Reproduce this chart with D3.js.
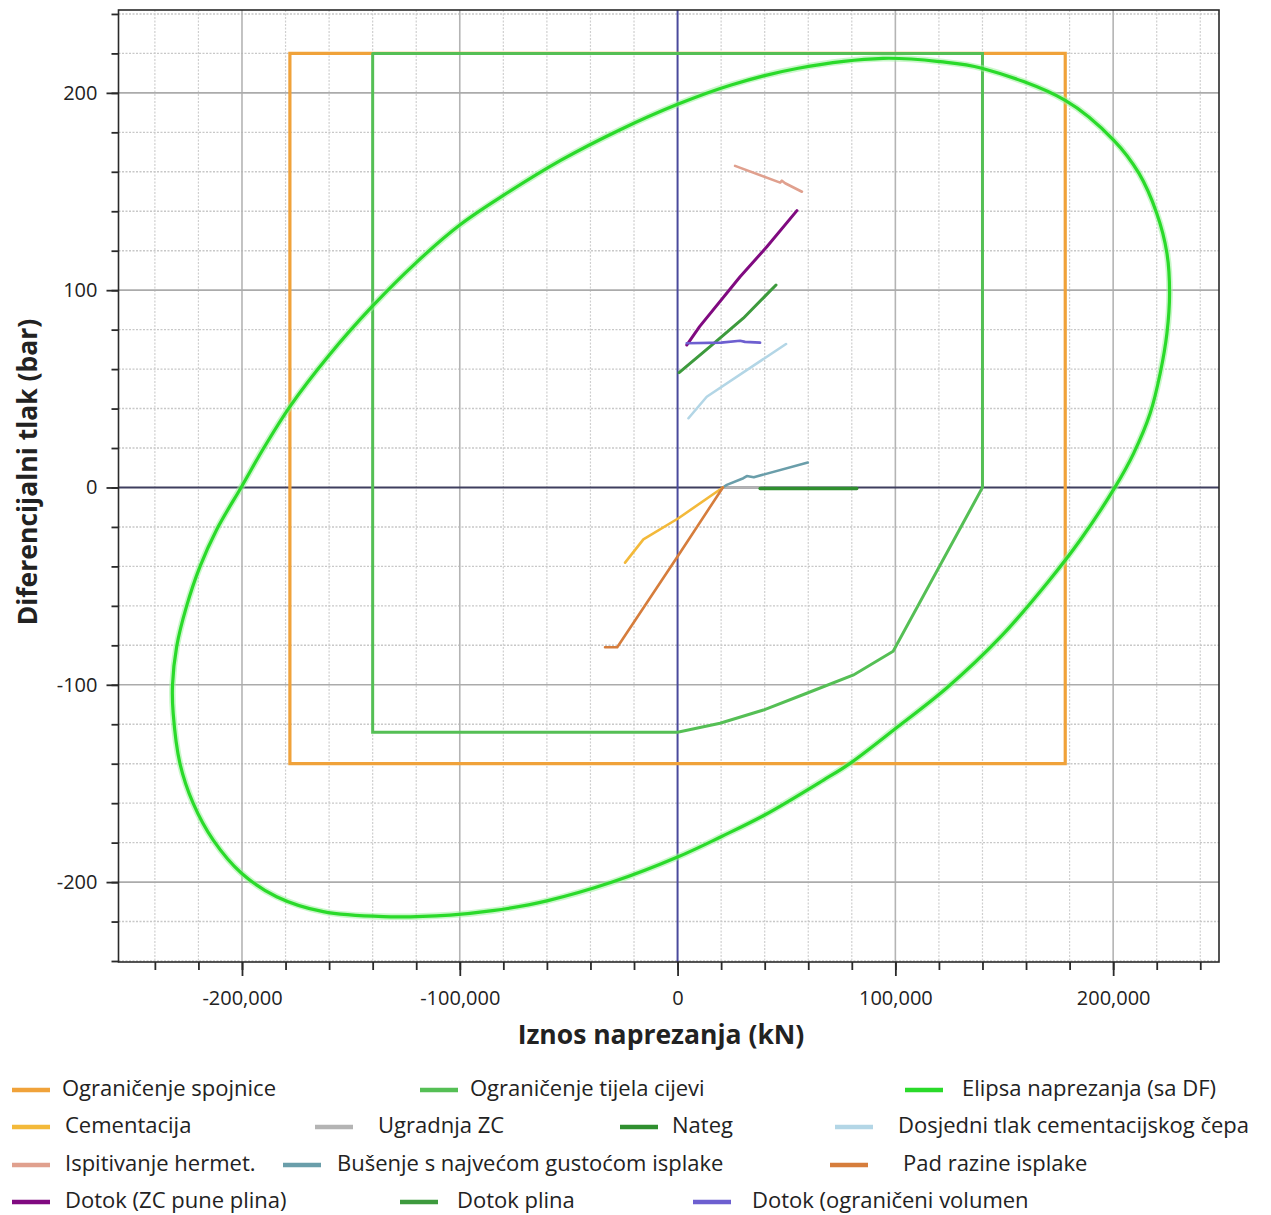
<!DOCTYPE html>
<html>
<head>
<meta charset="utf-8">
<script src="https://cdn.jsdelivr.net/npm/d3@7"></script>
<style>
  body { margin: 0; background: #fff; }
  svg { display: block; }
  text { font-family: "Open Sans", "DejaVu Sans", sans-serif; fill: #222; }
</style>
</head>
<body>
<svg id="chart" width="1271" height="1215"></svg>
<script>
// Casing load envelope: axial load (kN) vs differential pressure (bar)

// ---- axis ticks ----
const xTicksMajor = [-200000, -100000, 0, 100000, 200000];
const yTicksMajor = [-200, -100, 0, 100, 200];
const xTicksMinor = d3.range(-240000, 240001, 20000);
const yTicksMinor = d3.range(-240, 241, 20);

// ---- design limits [axial kN, pressure bar] ----
const couplingLimit = [[-178000, -140], [-178000, 220], [178000, 220], [178000, -140], [-178000, -140]];
const pipeBodyLimit = [[-140000, 220], [140000, 220], [140000, 0], [99000, -83], [80800, -95], [59300, -104.3],
  [39400, -112.8], [19500, -119.5], [0, -124], [-140000, -124], [-140000, 220]];
const stressEllipse = [
  [225900, 98.4], [224700, 118.7], [220000, 139], [211800, 159.3], [200200, 176.1], [178000, 196.2],
  [139700, 212.5], [120600, 215.8], [94400, 217.5], [55400, 212.5], [24600, 204], [0, 194.2],
  [-26600, 181.2], [-53300, 166], [-80000, 148], [-100000, 133], [-120000, 114], [-140000, 92],
  [-160000, 67], [-178000, 41], [-190000, 20], [-200200, 0.4], [-211700, -21.5], [-219300, -40.1],
  [-225500, -60.4], [-230000, -80.7], [-231900, -100.1], [-231600, -114.4], [-228500, -139.8],
  [-222400, -160.1], [-213200, -178.7], [-200200, -195.5], [-184100, -207.4], [-162700, -215],
  [-135100, -217.5], [-104500, -216.7], [-85000, -214.5], [-60000, -209.5], [-30000, -200],
  [0, -187.3], [20000, -177], [40000, -166], [67000, -148.3], [79200, -139.8], [99100, -123],
  [123700, -101.5], [148100, -76], [170000, -48], [184900, -26.6], [201000, 0.4], [209400, 17.3],
  [217000, 37.6], [221600, 57.9], [224700, 78.2]
];

// ---- load cases [axial kN, pressure bar] ----
const cementing = [[20800, 0], [400, -15.6], [-15700, -26.3], [-24100, -38.1]];
const runningCasing = [[20800, 0], [37900, 0]];
const overpull = [[37900, -0.5], [82300, -0.5]];
const plugBump = [[5000, 35.1], [13400, 46], [49800, 72.7]];
const pressureTest = [[26400, 163], [47100, 154.5], [47900, 155.5], [49400, 154.2], [57100, 149.9]];
const drillingMaxMud = [[20800, 0], [22600, 1.3], [30200, 4.7], [31800, 5.8], [35000, 5.2], [59800, 12.6]];
const mudDrop = [[20800, 0], [0, -35], [-27700, -81], [-33300, -81]];
const kickFullGas = [[4200, 72.2], [10100, 81.5], [28700, 106.8], [41000, 122], [54800, 140.3]];
const gasKick = [[700, 58.2], [14900, 71.4], [30200, 85.8], [45200, 102.6]];
const kickLimitedVol = [[4200, 73.1], [20000, 73.4], [28700, 74.4], [31000, 73.8], [37900, 73.4]];

// ---- series names ----
const seriesNames = {
  couplingLimit: "Ograničenje spojnice",
  pipeBodyLimit: "Ograničenje tijela cijevi",
  stressEllipse: "Elipsa naprezanja (sa DF)",
  cementing: "Cementacija",
  runningCasing: "Ugradnja ZC",
  overpull: "Nateg",
  plugBump: "Dosjedni tlak cementacijskog čepa",
  pressureTest: "Ispitivanje hermet.",
  drillingMaxMud: "Bušenje s najvećom gustoćom isplake",
  mudDrop: "Pad razine isplake",
  kickFullGas: "Dotok (ZC pune plina)",
  gasKick: "Dotok plina",
  kickLimitedVol: "Dotok (ograničeni volumen"
};

// ---- styles ----
const colors = {
  couplingLimit: "#f0a23a",
  pipeBodyLimit: "#55bf55",
  stressEllipse: "#2ada2a",
  cementing: "#f3b93a",
  runningCasing: "#b4b4b4",
  overpull: "#2f8f2f",
  plugBump: "#b3d6e6",
  pressureTest: "#e0a08e",
  drillingMaxMud: "#6a9eaa",
  mudDrop: "#d67d3c",
  kickFullGas: "#800a80",
  gasKick: "#3d9a3d",
  kickLimitedVol: "#6d5fd0"
};

const svg = d3.select("#chart");
const plot = { left: 118.5, right: 1219, top: 10, bottom: 962 };

const x = d3.scaleLinear().domain([-256700, 248600]).range([plot.left, plot.right]);
const y = d3.scaleLinear().domain([-240.5, 242]).range([plot.bottom, plot.top]);

const fmtX = d => d3.format(",")(d).replace("\u2212", "-");
const fmtY = d => String(d);

// grid
const grid = svg.append("g");
grid.selectAll(".vmin").data(xTicksMinor.filter(d => d % 100000 !== 0)).join("line")
  .attr("x1", d => x(d)).attr("x2", d => x(d)).attr("y1", plot.top).attr("y2", plot.bottom)
  .attr("stroke", "#cfcfcf").attr("stroke-width", 1.2).attr("stroke-dasharray", "2,1.5");
grid.selectAll(".hmin").data(yTicksMinor.filter(d => d % 100 !== 0)).join("line")
  .attr("y1", d => y(d)).attr("y2", d => y(d)).attr("x1", plot.left).attr("x2", plot.right)
  .attr("stroke", "#c8c8c8").attr("stroke-width", 1.4).attr("stroke-dasharray", "2,1.5");
grid.selectAll(".vmaj").data(xTicksMajor.filter(d => d !== 0)).join("line")
  .attr("x1", d => x(d)).attr("x2", d => x(d)).attr("y1", plot.top).attr("y2", plot.bottom)
  .attr("stroke", "#b4b4b4").attr("stroke-width", 1.6);
grid.selectAll(".hmaj").data(yTicksMajor.filter(d => d !== 0)).join("line")
  .attr("y1", d => y(d)).attr("y2", d => y(d)).attr("x1", plot.left).attr("x2", plot.right)
  .attr("stroke", "#ababab").attr("stroke-width", 1.6);

// zero lines
svg.append("line").attr("x1", plot.left).attr("x2", plot.right).attr("y1", y(0)).attr("y2", y(0))
  .attr("stroke", "#3f3f5f").attr("stroke-width", 2);
svg.append("line").attr("x1", x(0)).attr("x2", x(0)).attr("y1", plot.top).attr("y2", plot.bottom)
  .attr("stroke", "#4a4a9c").attr("stroke-width", 2);

// frame
svg.append("rect").attr("x", plot.left).attr("y", plot.top)
  .attr("width", plot.right - plot.left).attr("height", plot.bottom - plot.top)
  .attr("fill", "none").attr("stroke", "#2a2a2a").attr("stroke-width", 1.6);

// axes
const styleAxis = g => {
  g.select(".domain").remove();
  g.selectAll(".tick line").attr("stroke", "#2a2a2a").attr("stroke-width", 1.8);
  g.selectAll("text").attr("font-size", 20).attr("fill", "#2a2a2a")
    .attr("font-family", "'Open Sans', sans-serif");
};
svg.append("g").attr("transform", `translate(${plot.left},0)`)
  .call(d3.axisLeft(y).tickValues(yTicksMinor).tickSize(7).tickFormat(""))
  .call(styleAxis);
svg.append("g").attr("transform", `translate(${plot.left},0)`)
  .call(d3.axisLeft(y).tickValues(yTicksMajor).tickSize(12).tickPadding(9).tickFormat(fmtY))
  .call(styleAxis);
svg.append("g").attr("transform", `translate(0,${plot.bottom})`)
  .call(d3.axisBottom(x).tickValues(xTicksMinor).tickSize(8).tickFormat(""))
  .call(styleAxis);
svg.append("g").attr("transform", `translate(0,${plot.bottom})`)
  .call(d3.axisBottom(x).tickValues(xTicksMajor).tickSize(14).tickPadding(15).tickFormat(fmtX))
  .call(styleAxis);

// axis titles
svg.append("text").attr("x", 661).attr("y", 1044).attr("text-anchor", "middle")
  .attr("font-size", 26.5).attr("font-weight", 700).attr("fill", "#1a1a1a")
  .text("Iznos naprezanja (kN)");
svg.append("text").attr("transform", "translate(37,472) rotate(-90)").attr("text-anchor", "middle")
  .attr("font-size", 26.5).attr("font-weight", 700).attr("fill", "#1a1a1a")
  .text("Diferencijalni tlak (bar)");

// series
const line = d3.line().x(d => x(d[0])).y(d => y(d[1]));
const closedCurve = d3.line().x(d => x(d[0])).y(d => y(d[1])).curve(d3.curveCatmullRomClosed.alpha(0.5));
const layer = svg.append("g").attr("fill", "none").attr("stroke-linejoin", "round").attr("stroke-linecap", "round");

layer.append("path").attr("d", line(couplingLimit)).attr("stroke", colors.couplingLimit).attr("stroke-width", 3.2)
  .attr("stroke-linecap", "square").attr("stroke-linejoin", "miter");
layer.append("path").attr("d", line(pipeBodyLimit)).attr("stroke", colors.pipeBodyLimit).attr("stroke-width", 3)
  .attr("stroke-linejoin", "miter");
layer.append("path").attr("d", closedCurve(stressEllipse)).attr("stroke", "#9ff09f").attr("stroke-width", 6.5)
  .attr("stroke-opacity", 0.55);
layer.append("path").attr("d", closedCurve(stressEllipse)).attr("stroke", colors.stressEllipse).attr("stroke-width", 3.2);

const loadCases = { cementing, runningCasing, overpull, plugBump, pressureTest, drillingMaxMud, mudDrop, kickFullGas, gasKick, kickLimitedVol };
const widths = { overpull: 3.4, kickFullGas: 3, gasKick: 3 };
const drawOrder = ["runningCasing", "overpull", "drillingMaxMud", "cementing", "mudDrop", "plugBump", "pressureTest", "gasKick", "kickFullGas", "kickLimitedVol"];
drawOrder.forEach(k => {
  layer.append("path").attr("d", line(loadCases[k])).attr("stroke", colors[k]).attr("stroke-width", widths[k] || 2.6);
});

// legend
const legendRows = [
  [["couplingLimit", 12, 62], ["pipeBodyLimit", 420, 470], ["stressEllipse", 905, 962]],
  [["cementing", 12, 65], ["runningCasing", 315, 378], ["overpull", 620, 672], ["plugBump", 835, 898]],
  [["pressureTest", 12, 65], ["drillingMaxMud", 283, 337], ["mudDrop", 830, 903]],
  [["kickFullGas", 12, 65], ["gasKick", 400, 457], ["kickLimitedVol", 693, 752]]
];
const rowY = [1088, 1125, 1163, 1200];
const legend = svg.append("g");
legendRows.forEach((row, i) => {
  row.forEach(([key, sx, tx]) => {
    legend.append("line").attr("x1", sx).attr("x2", sx + 38).attr("y1", rowY[i] + 2).attr("y2", rowY[i] + 2)
      .attr("stroke", colors[key]).attr("stroke-width", 4.5);
    legend.append("text").attr("x", tx).attr("y", rowY[i]).attr("dy", "0.35em")
      .attr("font-size", 22).attr("fill", "#2a2a2a").text(seriesNames[key]);
  });
});
</script>
</body>
</html>
